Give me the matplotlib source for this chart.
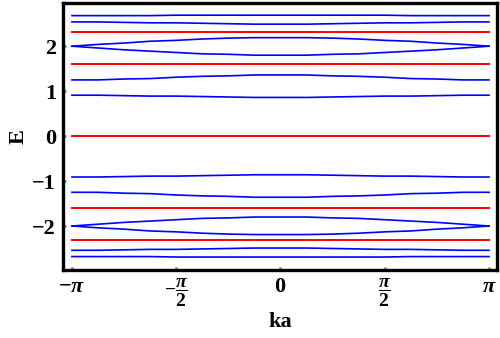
import numpy as np
import matplotlib.pyplot as plt

plt.rcParams['font.family'] = 'Liberation Serif'
plt.rcParams['font.weight'] = 'bold'
plt.rcParams['mathtext.fontset'] = 'custom'
plt.rcParams['mathtext.rm'] = 'Liberation Serif:bold'
plt.rcParams['mathtext.it'] = 'Liberation Serif:bold:italic'
plt.rcParams['mathtext.bf'] = 'Liberation Serif:bold'
plt.rcParams['mathtext.sf'] = 'Liberation Serif:bold'

# k a desde -pi hasta pi (17 puntos)
ka = np.linspace(-np.pi, np.pi, 17)

# bandas azules
b_top = [2.68, 2.68, 2.68, 2.68, 2.69, 2.69, 2.69, 2.69, 2.69, 2.69, 2.69, 2.69, 2.69, 2.68, 2.68, 2.68, 2.68]
b_254 = [2.54, 2.54, 2.53, 2.52, 2.52, 2.51, 2.50, 2.49, 2.49, 2.49, 2.50, 2.51, 2.52, 2.52, 2.53, 2.54, 2.54]
b_2_up = [2.00, 2.04, 2.07, 2.11, 2.13, 2.16, 2.18, 2.19, 2.19, 2.19, 2.18, 2.16, 2.13, 2.11, 2.07, 2.04, 2.00]
b_2_dn = [2.00, 1.96, 1.92, 1.89, 1.86, 1.83, 1.82, 1.80, 1.80, 1.80, 1.82, 1.83, 1.86, 1.89, 1.92, 1.96, 2.00]
b_125 = [1.25, 1.25, 1.27, 1.28, 1.31, 1.33, 1.34, 1.36, 1.36, 1.36, 1.34, 1.33, 1.31, 1.28, 1.27, 1.25, 1.25]
b_091 = [0.91, 0.91, 0.90, 0.89, 0.89, 0.88, 0.87, 0.86, 0.86, 0.86, 0.87, 0.88, 0.89, 0.89, 0.90, 0.91, 0.91]

b_m091 = [-0.91, -0.91, -0.90, -0.89, -0.89, -0.88, -0.87, -0.86, -0.86, -0.86, -0.87, -0.88, -0.89, -0.89, -0.90, -0.91, -0.91]
b_m125 = [-1.25, -1.25, -1.27, -1.28, -1.31, -1.33, -1.34, -1.36, -1.36, -1.36, -1.34, -1.33, -1.31, -1.28, -1.27, -1.25, -1.25]
b_m2_up = [-2.00, -1.96, -1.92, -1.89, -1.86, -1.83, -1.82, -1.80, -1.80, -1.80, -1.82, -1.83, -1.86, -1.89, -1.92, -1.96, -2.00]
b_m2_dn = [-2.00, -2.04, -2.07, -2.11, -2.13, -2.16, -2.18, -2.19, -2.19, -2.19, -2.18, -2.16, -2.13, -2.11, -2.07, -2.04, -2.00]
b_m254 = [-2.54, -2.54, -2.53, -2.52, -2.52, -2.51, -2.50, -2.49, -2.49, -2.49, -2.50, -2.51, -2.52, -2.52, -2.53, -2.54, -2.54]
b_mtop = [-2.68, -2.68, -2.68, -2.68, -2.69, -2.69, -2.69, -2.69, -2.69, -2.69, -2.69, -2.69, -2.69, -2.68, -2.68, -2.68, -2.68]

azules = [b_top, b_254, b_2_up, b_2_dn, b_125, b_091,
          b_m091, b_m125, b_m2_up, b_m2_dn, b_m254, b_mtop]

# bandas planas rojas
rojas = [2.32, 1.61, 0.0, -1.61, -2.32]

x_ticks = [-np.pi, -np.pi/2, 0, np.pi/2, np.pi]
x_labels = [r'$-\pi$', r'$-\dfrac{\pi}{2}$', r'$0$', r'$\dfrac{\pi}{2}$', r'$\pi$']
x_sizes = [16, 14, 16, 14, 16]
y_ticks = [-2, -1, 0, 1, 2]
y_labels = ['\u22122', '\u22121', '0', '1', '2']

fig = plt.figure(figsize=(5, 3.38), dpi=100)
ax = fig.add_axes([0.126, 0.201, 0.868, 0.79])

for b in azules:
    ax.plot(ka, b, color='#0000ff', lw=1.2)
for e in rojas:
    ax.plot([ka[0], ka[-1]], [e, e], color='#ff0000', lw=1.4)

ax.set_xlim(-np.pi - 0.135, np.pi + 0.12)
ax.set_ylim(-2.98, 2.96)

ax.set_xticks(x_ticks)
ax.set_xticklabels(x_labels)
for lab, fs in zip(ax.get_xticklabels(), x_sizes):
    lab.set_fontsize(fs)
ax.set_yticks(y_ticks)
ax.set_yticklabels(y_labels, fontsize=16, fontweight='bold')
ax.tick_params(direction='in', length=2, width=2, color='#808080', pad=5)

for s in ax.spines.values():
    s.set_linewidth(2.4)
    s.set_color('black')

ax.set_xlabel('ka', fontsize=16, fontweight='bold', labelpad=2)
ax.set_ylabel('E', fontsize=16, fontweight='bold', labelpad=3)

fig.savefig('out.png', dpi=100)
